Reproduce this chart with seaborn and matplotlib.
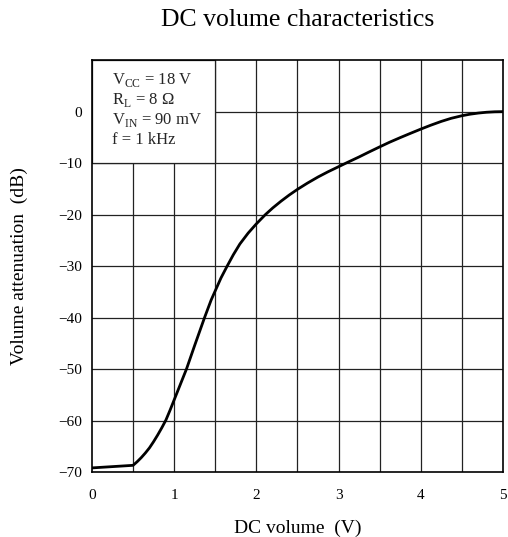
import numpy as np
import pandas as pd
import matplotlib
matplotlib.use("Agg")
import matplotlib.pyplot as plt
import matplotlib.ticker as mticker
from matplotlib.patches import Rectangle
import seaborn as sns

# ── Data ─────────────────────────────────────────────────────────────────────
dc_volume = [0.0, 0.5, 0.55, 0.6, 0.65, 0.7, 0.75, 0.8, 0.85, 0.9, 0.95,
             1.0, 1.075, 1.15, 1.2, 1.25, 1.31, 1.37, 1.45, 1.5, 1.57,
             1.645, 1.72, 1.8, 1.9, 2.0, 2.11, 2.2, 2.3, 2.4, 2.5, 2.62,
             2.75, 2.87, 3.0, 3.11, 3.25, 3.37, 3.5, 3.62, 3.75, 3.87,
             4.0, 4.12, 4.25, 4.37, 4.5, 4.6, 4.7, 4.8, 4.9, 5.0]
attenuation = [-69.2, -68.7, -68.0, -67.2, -66.3, -65.3, -64.1, -62.8, -61.4,
               -59.9, -58.0, -56.0, -53.0, -50.0, -47.7, -45.4, -42.7, -40.0,
               -36.6, -34.8, -32.3, -30.0, -27.8, -25.7, -23.6, -21.8, -20.0,
               -18.7, -17.4, -16.2, -15.1, -13.9, -12.7, -11.7, -10.7, -9.85,
               -8.8, -7.85, -6.85, -5.95, -5.05, -4.25, -3.4, -2.65, -1.9,
               -1.3, -0.8, -0.5, -0.28, -0.12, -0.03, 0.0]

x_ticks = [0, 1, 2, 3, 4, 5]
y_ticks = [0, -10, -20, -30, -40, -50, -60, -70]
x_grid = [0.5, 1.0, 1.5, 2.0, 2.5, 3.0, 3.5, 4.0, 4.5]
y_grid = [0, -10, -20, -30, -40, -50, -60]

conditions = [r"V$_{\mathrm{CC}}$ = 18 V",
              r"R$_{\mathrm{L}}$ = 8 Ω",
              r"V$_{\mathrm{IN}}$ = 90 mV",
              "f = 1 kHz"]
condition_y = [5.28, 1.45, -2.43, -6.3]

df = pd.DataFrame({"volume": dc_volume, "atten": attenuation})

# ── Style ────────────────────────────────────────────────────────────────────
sns.set_theme(style="white")
plt.rcParams["font.family"] = ["Liberation Serif", "DejaVu Serif"]
plt.rcParams["mathtext.fontset"] = "custom"
plt.rcParams["mathtext.rm"] = "Liberation Serif"
plt.rcParams["axes.unicode_minus"] = True

fig = plt.figure(figsize=(5.08, 5.37), dpi=100, facecolor="white")
ax = fig.add_axes([0.181, 0.121, 0.809, 0.767])

# grid lines drawn explicitly so the condition box can sit on top
for gx in x_grid:
    ax.axvline(gx, color="#222222", lw=0.9, zorder=1)
for gy in y_grid:
    ax.axhline(gy, color="#222222", lw=0.9, zorder=1)

sns.lineplot(data=df, x="volume", y="atten", color="black", lw=2.0,
             ax=ax, zorder=3)

# condition box (white, covers the grid)
ax.add_patch(Rectangle((0, -10), 1.5, 20, facecolor="white",
                       edgecolor="#222222", lw=0.9, zorder=2))
for txt, yy in zip(conditions, condition_y):
    ax.text(0.24, yy, txt, fontsize=12, va="baseline", ha="left", zorder=4)

ax.set_xlim(0, 5)
ax.set_ylim(-70, 10)
ax.set_xticks(x_ticks)
ax.set_yticks(y_ticks)
ax.xaxis.set_major_formatter(mticker.FuncFormatter(lambda v, p: f"{v:g}"))
ax.yaxis.set_major_formatter(
    mticker.FuncFormatter(lambda v, p: f"{v:g}".replace("-", "\u2212")))
ax.tick_params(axis="both", length=0, labelsize=11, colors="black")
ax.tick_params(axis="x", pad=12)
ax.tick_params(axis="y", pad=7)

for sp in ax.spines.values():
    sp.set_color("black")
    sp.set_linewidth(1.2)

ax.set_xlabel("DC volume  (V)", fontsize=14, color="black")
ax.xaxis.set_label_coords(0.5, -0.115)
ax.set_ylabel("Volume attenuation  (dB)", fontsize=14, color="black")
ax.yaxis.set_label_coords(-0.155, 0.5)

fig.text(0.5856, 0.962, "DC volume characteristics", fontsize=18.5,
         ha="center", va="center", color="black")

fig.savefig("out.png", dpi=100, facecolor="white")
